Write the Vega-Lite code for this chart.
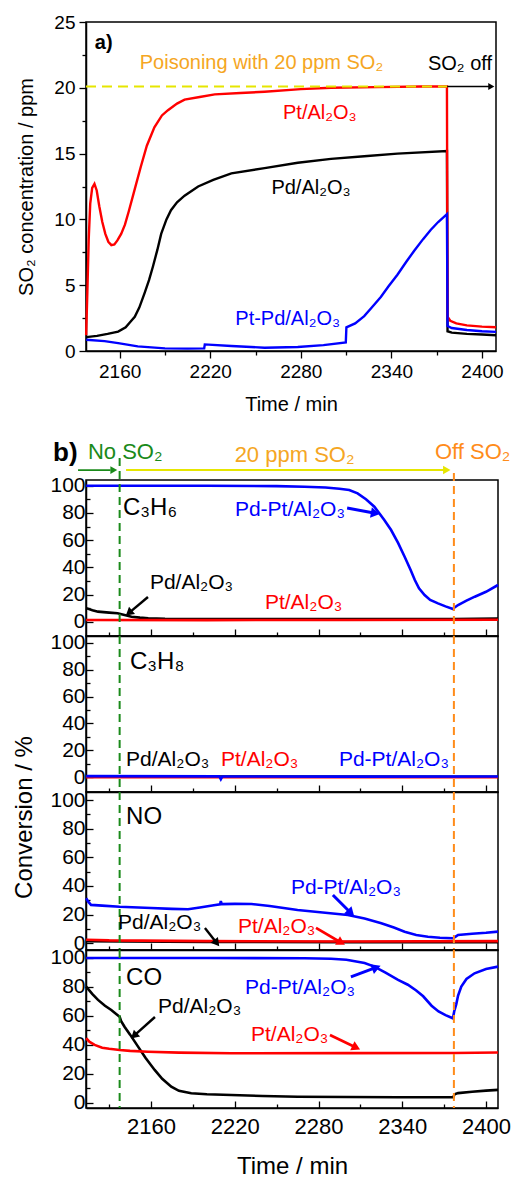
{
"$schema": "https://vega.github.io/schema/vega-lite/v6.json",
"padding": {"left": 12, "top": 12, "right": 0, "bottom": 0},
"bounds": "flush",
"spacing": 0,
"config": {
  "font": "Liberation Sans",
  "view": {"stroke": "#000", "strokeWidth": 1.5},
  "axis": {"grid": false, "domainColor": "#000", "domainWidth": 1.5, "tickColor": "#000", "tickWidth": 1.3, "labelColor": "#000", "titleColor": "#000", "titleFontWeight": "normal", "zindex": 1}
},
"datasets": {
"curves": [
{"p":"a","s":"Pd","t":2137.8,"v":1.05},{"p":"a","s":"Pd","t":2145,"v":1.15},{"p":"a","s":"Pd","t":2152,"v":1.3},{"p":"a","s":"Pd","t":2159,"v":1.47},{"p":"a","s":"Pd","t":2164,"v":1.8},{"p":"a","s":"Pd","t":2167,"v":2.2},{"p":"a","s":"Pd","t":2170,"v":2.6},{"p":"a","s":"Pd","t":2173,"v":3.3},{"p":"a","s":"Pd","t":2176.5,"v":4.4},{"p":"a","s":"Pd","t":2179.5,"v":5.4},{"p":"a","s":"Pd","t":2182,"v":6.4},{"p":"a","s":"Pd","t":2185,"v":7.7},{"p":"a","s":"Pd","t":2187.5,"v":8.9},{"p":"a","s":"Pd","t":2191,"v":10.0},{"p":"a","s":"Pd","t":2194,"v":10.7},{"p":"a","s":"Pd","t":2198,"v":11.3},{"p":"a","s":"Pd","t":2203,"v":11.8},{"p":"a","s":"Pd","t":2212,"v":12.5},{"p":"a","s":"Pd","t":2222,"v":13.0},{"p":"a","s":"Pd","t":2234,"v":13.5},{"p":"a","s":"Pd","t":2256,"v":13.9},{"p":"a","s":"Pd","t":2278,"v":14.3},{"p":"a","s":"Pd","t":2300,"v":14.6},{"p":"a","s":"Pd","t":2322,"v":14.8},{"p":"a","s":"Pd","t":2344,"v":15.0},{"p":"a","s":"Pd","t":2376.8,"v":15.2},{"p":"a","s":"Pd","t":2377.2,"v":1.5},{"p":"a","s":"Pd","t":2380,"v":1.4},{"p":"a","s":"Pd","t":2390,"v":1.3},{"p":"a","s":"Pd","t":2400,"v":1.25},{"p":"a","s":"Pd","t":2409.3,"v":1.2},
{"p":"a","s":"Pt","t":2137.8,"v":1.2},{"p":"a","s":"Pt","t":2138.6,"v":4.5},{"p":"a","s":"Pt","t":2139.5,"v":8.5},{"p":"a","s":"Pt","t":2140.5,"v":11.2},{"p":"a","s":"Pt","t":2141.8,"v":12.4},{"p":"a","s":"Pt","t":2143.3,"v":12.7},{"p":"a","s":"Pt","t":2144.8,"v":12.2},{"p":"a","s":"Pt","t":2146.5,"v":11.0},{"p":"a","s":"Pt","t":2148.5,"v":9.8},{"p":"a","s":"Pt","t":2150.5,"v":8.9},{"p":"a","s":"Pt","t":2152.5,"v":8.3},{"p":"a","s":"Pt","t":2154.5,"v":8.05},{"p":"a","s":"Pt","t":2156.5,"v":8.1},{"p":"a","s":"Pt","t":2158.5,"v":8.4},{"p":"a","s":"Pt","t":2161,"v":8.9},{"p":"a","s":"Pt","t":2163.5,"v":9.6},{"p":"a","s":"Pt","t":2166,"v":10.6},{"p":"a","s":"Pt","t":2170,"v":12.3},{"p":"a","s":"Pt","t":2174,"v":14.0},{"p":"a","s":"Pt","t":2178,"v":15.6},{"p":"a","s":"Pt","t":2183,"v":17.0},{"p":"a","s":"Pt","t":2188,"v":17.9},{"p":"a","s":"Pt","t":2192,"v":18.3},{"p":"a","s":"Pt","t":2198,"v":18.8},{"p":"a","s":"Pt","t":2203,"v":19.1},{"p":"a","s":"Pt","t":2213,"v":19.3},{"p":"a","s":"Pt","t":2223,"v":19.5},{"p":"a","s":"Pt","t":2240,"v":19.6},{"p":"a","s":"Pt","t":2256,"v":19.7},{"p":"a","s":"Pt","t":2280,"v":19.9},{"p":"a","s":"Pt","t":2300,"v":20.0},{"p":"a","s":"Pt","t":2330,"v":20.05},{"p":"a","s":"Pt","t":2360,"v":20.1},{"p":"a","s":"Pt","t":2376.8,"v":20.1},{"p":"a","s":"Pt","t":2377.2,"v":2.6},{"p":"a","s":"Pt","t":2379,"v":2.3},{"p":"a","s":"Pt","t":2383,"v":2.1},{"p":"a","s":"Pt","t":2390,"v":1.95},{"p":"a","s":"Pt","t":2400,"v":1.85},{"p":"a","s":"Pt","t":2409.3,"v":1.8},
{"p":"a","s":"PdPt","t":2137.8,"v":0.85},{"p":"a","s":"PdPt","t":2150,"v":0.75},{"p":"a","s":"PdPt","t":2159,"v":0.6},{"p":"a","s":"PdPt","t":2172,"v":0.35},{"p":"a","s":"PdPt","t":2190,"v":0.2},{"p":"a","s":"PdPt","t":2205,"v":0.18},{"p":"a","s":"PdPt","t":2216,"v":0.2},{"p":"a","s":"PdPt","t":2216.4,"v":0.5},{"p":"a","s":"PdPt","t":2234,"v":0.38},{"p":"a","s":"PdPt","t":2256,"v":0.25},{"p":"a","s":"PdPt","t":2278,"v":0.3},{"p":"a","s":"PdPt","t":2295,"v":0.45},{"p":"a","s":"PdPt","t":2309.8,"v":0.65},{"p":"a","s":"PdPt","t":2310.2,"v":1.8},{"p":"a","s":"PdPt","t":2316,"v":2.1},{"p":"a","s":"PdPt","t":2322,"v":2.65},{"p":"a","s":"PdPt","t":2327,"v":3.3},{"p":"a","s":"PdPt","t":2333,"v":4.1},{"p":"a","s":"PdPt","t":2338,"v":4.9},{"p":"a","s":"PdPt","t":2344,"v":5.8},{"p":"a","s":"PdPt","t":2350,"v":6.8},{"p":"a","s":"PdPt","t":2355,"v":7.6},{"p":"a","s":"PdPt","t":2361,"v":8.5},{"p":"a","s":"PdPt","t":2366,"v":9.2},{"p":"a","s":"PdPt","t":2371,"v":9.8},{"p":"a","s":"PdPt","t":2376.8,"v":10.4},{"p":"a","s":"PdPt","t":2377.2,"v":1.9},{"p":"a","s":"PdPt","t":2380,"v":1.75},{"p":"a","s":"PdPt","t":2390,"v":1.6},{"p":"a","s":"PdPt","t":2400,"v":1.5},{"p":"a","s":"PdPt","t":2409.3,"v":1.45},

{"p":"c3h6","s":"Pd","t":2113.5,"v":10},{"p":"c3h6","s":"Pd","t":2118,"v":8.5},{"p":"c3h6","s":"Pd","t":2122,"v":7.4},{"p":"c3h6","s":"Pd","t":2130,"v":6.7},{"p":"c3h6","s":"Pd","t":2136,"v":6.2},{"p":"c3h6","s":"Pd","t":2141,"v":5},{"p":"c3h6","s":"Pd","t":2146,"v":3.7},{"p":"c3h6","s":"Pd","t":2152,"v":3},{"p":"c3h6","s":"Pd","t":2158,"v":2.5},{"p":"c3h6","s":"Pd","t":2170,"v":2.1},{"p":"c3h6","s":"Pd","t":2200,"v":2},{"p":"c3h6","s":"Pd","t":2300,"v":2},{"p":"c3h6","s":"Pd","t":2377,"v":2},{"p":"c3h6","s":"Pd","t":2408.6,"v":2.3},
{"p":"c3h6","s":"Pt","t":2113.5,"v":1.3},{"p":"c3h6","s":"Pt","t":2200,"v":1.2},{"p":"c3h6","s":"Pt","t":2300,"v":1.3},{"p":"c3h6","s":"Pt","t":2408.6,"v":1.4},
{"p":"c3h6","s":"PdPt","t":2113.5,"v":100},{"p":"c3h6","s":"PdPt","t":2200,"v":100},{"p":"c3h6","s":"PdPt","t":2250,"v":99.7},{"p":"c3h6","s":"PdPt","t":2270,"v":99.2},{"p":"c3h6","s":"PdPt","t":2285,"v":98.7},{"p":"c3h6","s":"PdPt","t":2295,"v":97.8},{"p":"c3h6","s":"PdPt","t":2302,"v":96.8},{"p":"c3h6","s":"PdPt","t":2308,"v":94.4},{"p":"c3h6","s":"PdPt","t":2314,"v":90},{"p":"c3h6","s":"PdPt","t":2320,"v":84.6},{"p":"c3h6","s":"PdPt","t":2327,"v":75},{"p":"c3h6","s":"PdPt","t":2332,"v":67.4},{"p":"c3h6","s":"PdPt","t":2337,"v":58},{"p":"c3h6","s":"PdPt","t":2341.7,"v":47.8},{"p":"c3h6","s":"PdPt","t":2346,"v":38},{"p":"c3h6","s":"PdPt","t":2349,"v":30.7},{"p":"c3h6","s":"PdPt","t":2352,"v":24.5},{"p":"c3h6","s":"PdPt","t":2356,"v":19.6},{"p":"c3h6","s":"PdPt","t":2360,"v":16},{"p":"c3h6","s":"PdPt","t":2365.6,"v":13.5},{"p":"c3h6","s":"PdPt","t":2371,"v":11.3},{"p":"c3h6","s":"PdPt","t":2376.3,"v":9.3},{"p":"c3h6","s":"PdPt","t":2377.5,"v":10.5},{"p":"c3h6","s":"PdPt","t":2380,"v":12.3},{"p":"c3h6","s":"PdPt","t":2386,"v":15.5},{"p":"c3h6","s":"PdPt","t":2392,"v":18.4},{"p":"c3h6","s":"PdPt","t":2400,"v":22},{"p":"c3h6","s":"PdPt","t":2408.6,"v":27},

{"p":"c3h8","s":"Pd","t":2113.5,"v":0.5},{"p":"c3h8","s":"Pd","t":2408.6,"v":0.3},
{"p":"c3h8","s":"Pt","t":2113.5,"v":0},{"p":"c3h8","s":"Pt","t":2408.6,"v":0},
{"p":"c3h8","s":"PdPt","t":2113.5,"v":0.8},{"p":"c3h8","s":"PdPt","t":2209,"v":0.6},{"p":"c3h8","s":"PdPt","t":2210,"v":-1.5},{"p":"c3h8","s":"PdPt","t":2211,"v":0.5},{"p":"c3h8","s":"PdPt","t":2300,"v":0.4},{"p":"c3h8","s":"PdPt","t":2408.6,"v":0.5},

{"p":"no","s":"Pd","t":2113.5,"v":1.5},{"p":"no","s":"Pd","t":2200,"v":1},{"p":"no","s":"Pd","t":2300,"v":0.8},{"p":"no","s":"Pd","t":2408.6,"v":0.8},
{"p":"no","s":"Pt","t":2113.5,"v":2.5},{"p":"no","s":"Pt","t":2130,"v":2},{"p":"no","s":"Pt","t":2200,"v":1.5},{"p":"no","s":"Pt","t":2300,"v":1.2},{"p":"no","s":"Pt","t":2408.6,"v":1.5},
{"p":"no","s":"PdPt","t":2113.5,"v":31.4},{"p":"no","s":"PdPt","t":2115,"v":29},{"p":"no","s":"PdPt","t":2117,"v":26.8},{"p":"no","s":"PdPt","t":2125,"v":26.3},{"p":"no","s":"PdPt","t":2137.5,"v":25.5},{"p":"no","s":"PdPt","t":2160,"v":24.6},{"p":"no","s":"PdPt","t":2175,"v":24},{"p":"no","s":"PdPt","t":2186.5,"v":23.7},{"p":"no","s":"PdPt","t":2195,"v":25},{"p":"no","s":"PdPt","t":2205,"v":26.5},{"p":"no","s":"PdPt","t":2209.5,"v":27.2},{"p":"no","s":"PdPt","t":2210,"v":29.5},{"p":"no","s":"PdPt","t":2210.6,"v":27.3},{"p":"no","s":"PdPt","t":2220,"v":27.5},{"p":"no","s":"PdPt","t":2232,"v":27.4},{"p":"no","s":"PdPt","t":2245,"v":26},{"p":"no","s":"PdPt","t":2265,"v":23.2},{"p":"no","s":"PdPt","t":2283,"v":21.5},{"p":"no","s":"PdPt","t":2301,"v":19.7},{"p":"no","s":"PdPt","t":2313,"v":17.3},{"p":"no","s":"PdPt","t":2325,"v":14},{"p":"no","s":"PdPt","t":2334,"v":11},{"p":"no","s":"PdPt","t":2341.7,"v":8.1},{"p":"no","s":"PdPt","t":2350,"v":5.8},{"p":"no","s":"PdPt","t":2358.4,"v":4.6},{"p":"no","s":"PdPt","t":2367,"v":3.9},{"p":"no","s":"PdPt","t":2376.3,"v":3.5},{"p":"no","s":"PdPt","t":2378,"v":4.5},{"p":"no","s":"PdPt","t":2380,"v":5.8},{"p":"no","s":"PdPt","t":2390,"v":6.6},{"p":"no","s":"PdPt","t":2400,"v":7.3},{"p":"no","s":"PdPt","t":2408.6,"v":8.1},

{"p":"co","s":"Pd","t":2113.5,"v":80.2},{"p":"co","s":"Pd","t":2118,"v":75},{"p":"co","s":"Pd","t":2122,"v":71},{"p":"co","s":"Pd","t":2127,"v":67},{"p":"co","s":"Pd","t":2131.5,"v":64},{"p":"co","s":"Pd","t":2135,"v":61.3},{"p":"co","s":"Pd","t":2137.5,"v":59.4},{"p":"co","s":"Pd","t":2138.5,"v":56.5},{"p":"co","s":"Pd","t":2141,"v":52.5},{"p":"co","s":"Pd","t":2145,"v":47},{"p":"co","s":"Pd","t":2150.7,"v":38.7},{"p":"co","s":"Pd","t":2156,"v":31},{"p":"co","s":"Pd","t":2162.6,"v":22.6},{"p":"co","s":"Pd","t":2168,"v":16.5},{"p":"co","s":"Pd","t":2174.5,"v":11},{"p":"co","s":"Pd","t":2180,"v":8.2},{"p":"co","s":"Pd","t":2188.8,"v":6.5},{"p":"co","s":"Pd","t":2200,"v":5.8},{"p":"co","s":"Pd","t":2217.5,"v":5.3},{"p":"co","s":"Pd","t":2240,"v":4.6},{"p":"co","s":"Pd","t":2265,"v":4.1},{"p":"co","s":"Pd","t":2300,"v":3.9},{"p":"co","s":"Pd","t":2337,"v":3.7},{"p":"co","s":"Pd","t":2376.5,"v":3.7},{"p":"co","s":"Pd","t":2377.5,"v":5.8},{"p":"co","s":"Pd","t":2380,"v":6.6},{"p":"co","s":"Pd","t":2390,"v":7.5},{"p":"co","s":"Pd","t":2400,"v":8.3},{"p":"co","s":"Pd","t":2408.6,"v":8.8},
{"p":"co","s":"Pt","t":2113.5,"v":44.5},{"p":"co","s":"Pt","t":2116,"v":42},{"p":"co","s":"Pt","t":2119.6,"v":39.9},{"p":"co","s":"Pt","t":2125,"v":38},{"p":"co","s":"Pt","t":2130,"v":37.2},{"p":"co","s":"Pt","t":2137.5,"v":36.4},{"p":"co","s":"Pt","t":2145,"v":35.8},{"p":"co","s":"Pt","t":2157.8,"v":35.2},{"p":"co","s":"Pt","t":2180,"v":34.6},{"p":"co","s":"Pt","t":2217.5,"v":34.1},{"p":"co","s":"Pt","t":2300,"v":34.2},{"p":"co","s":"Pt","t":2377,"v":34.3},{"p":"co","s":"Pt","t":2408.6,"v":34.7},
{"p":"co","s":"PdPt","t":2113.5,"v":100},{"p":"co","s":"PdPt","t":2200,"v":100},{"p":"co","s":"PdPt","t":2270,"v":99.8},{"p":"co","s":"PdPt","t":2289,"v":99.5},{"p":"co","s":"PdPt","t":2300,"v":98.8},{"p":"co","s":"PdPt","t":2313,"v":96.5},{"p":"co","s":"PdPt","t":2320,"v":94},{"p":"co","s":"PdPt","t":2328,"v":89.8},{"p":"co","s":"PdPt","t":2337,"v":84.8},{"p":"co","s":"PdPt","t":2344,"v":81.5},{"p":"co","s":"PdPt","t":2350,"v":77.5},{"p":"co","s":"PdPt","t":2355,"v":73.5},{"p":"co","s":"PdPt","t":2361,"v":67},{"p":"co","s":"PdPt","t":2366,"v":63},{"p":"co","s":"PdPt","t":2371,"v":60.5},{"p":"co","s":"PdPt","t":2376.3,"v":58.3},{"p":"co","s":"PdPt","t":2377.2,"v":63},{"p":"co","s":"PdPt","t":2378.7,"v":68},{"p":"co","s":"PdPt","t":2380,"v":74},{"p":"co","s":"PdPt","t":2382.3,"v":80.2},{"p":"co","s":"PdPt","t":2386,"v":85.5},{"p":"co","s":"PdPt","t":2391.8,"v":89.4},{"p":"co","s":"PdPt","t":2400,"v":92.3},{"p":"co","s":"PdPt","t":2408.6,"v":94}
],
"segs": [
{"p":"a","s":"yl","d":"dash","t":2137.7,"v":20.1,"t2":2377,"v2":20.1},
{"p":"a","s":"k","d":"solid","t":2377,"v":20.1,"t2":2405,"v2":20.1},
{"p":"c3h6","s":"no","d":"dash","t":2137.5,"v":120.4,"t2":2137.5,"v2":-10.5},
{"p":"c3h6","s":"off","d":"dash","t":2377,"v":109.3,"t2":2377,"v2":-10.5},
{"p":"c3h6","s":"no","d":"solid","t":2107.7,"v":111.5,"t2":2131,"v2":111.5},
{"p":"c3h6","s":"yl","d":"solid","t":2142.1,"v":111.5,"t2":2370,"v2":111.5},
{"p":"c3h6","s":"PdPt","d":"solid","t":2300.5,"v":83.6,"t2":2319.7,"v2":79.9},
{"p":"c3h6","s":"Pd","d":"solid","t":2157.8,"v":18.2,"t2":2144.9,"v2":7.1},
{"p":"c3h8","s":"no","d":"dash","t":2137.5,"v":105,"t2":2137.5,"v2":-11},
{"p":"c3h8","s":"off","d":"dash","t":2377,"v":105,"t2":2377,"v2":-11},
{"p":"no","s":"no","d":"dash","t":2137.5,"v":105.6,"t2":2137.5,"v2":-4.7},
{"p":"no","s":"off","d":"dash","t":2377,"v":105.6,"t2":2377,"v2":-4.7},
{"p":"no","s":"PdPt","d":"solid","t":2290.3,"v":33.7,"t2":2302.5,"v2":21.8},
{"p":"no","s":"Pd","d":"solid","t":2198.6,"v":10.7,"t2":2206.5,"v2":0.9},
{"p":"no","s":"Pt","d":"solid","t":2278.2,"v":10.7,"t2":2295.4,"v2":0.9},
{"p":"co","s":"no","d":"dash","t":2137.5,"v":105.5,"t2":2137.5,"v2":-3.7},
{"p":"co","s":"off","d":"dash","t":2377,"v":105.5,"t2":2377,"v2":-3.7},
{"p":"co","s":"PdPt","d":"solid","t":2303.2,"v":86.9,"t2":2320.4,"v2":93.1},
{"p":"co","s":"Pd","d":"solid","t":2162.8,"v":59.2,"t2":2148.5,"v2":46.8},
{"p":"co","s":"Pt","d":"solid","t":2288.2,"v":46.8,"t2":2306.1,"v2":38.5}
],
"heads": [
{"p":"a","s":"k","t":2405.5,"v":20.1,"a":90},
{"p":"c3h6","s":"no","t":2132.5,"v":111.5,"a":90},
{"p":"c3h6","s":"yl","t":2371,"v":111.5,"a":90},
{"p":"c3h6","s":"PdPt","t":2319.7,"v":79.9,"a":100},
{"p":"c3h6","s":"Pd","t":2144.9,"v":7.1,"a":230},
{"p":"no","s":"PdPt","t":2302.5,"v":21.8,"a":135},
{"p":"no","s":"Pd","t":2206.5,"v":0.9,"a":142},
{"p":"no","s":"Pt","t":2295.4,"v":0.9,"a":120},
{"p":"co","s":"PdPt","t":2320.4,"v":93.1,"a":69},
{"p":"co","s":"Pd","t":2148.5,"v":46.8,"a":228},
{"p":"co","s":"Pt","t":2306.1,"v":38.5,"a":116}
],
"labels": [
{"p":"a","s":"k","k":"ab","t":2143.5,"v":23.4,"txt":"a)"},
{"p":"a","s":"so2","k":"lab","t":2173.3,"v":21.9,"txt":"Poisoning with 20 ppm SO₂"},
{"p":"a","s":"k","k":"lab","t":2364.2,"v":21.8,"txt":"SO₂ off"},
{"p":"a","s":"Pt","k":"lab","t":2268.2,"v":18.1,"txt":"Pt/Al₂O₃"},
{"p":"a","s":"Pd","k":"lab","t":2260.5,"v":12.4,"txt":"Pd/Al₂O₃"},
{"p":"a","s":"PdPt","k":"lab","t":2236.6,"v":2.4,"txt":"Pt-Pd/Al₂O₃"},
{"p":"c3h6","s":"k","k":"ab","t":2089.8,"v":123.8,"txt":"b)"},
{"p":"c3h6","s":"no","k":"top","t":2114.8,"v":125,"txt":"No SO₂"},
{"p":"c3h6","s":"so2","k":"top","t":2219.9,"v":122.6,"txt":"20 ppm SO₂"},
{"p":"c3h6","s":"off","k":"top","t":2363.4,"v":124.8,"txt":"Off SO₂"},
{"p":"c3h6","s":"k","k":"gas","t":2139.9,"v":83.6,"txt":"C₃H₆"},
{"p":"c3h6","s":"PdPt","k":"cat","t":2220.1,"v":82.1,"txt":"Pd-Pt/Al₂O₃"},
{"p":"c3h6","s":"Pd","k":"cat","t":2159.2,"v":28.5,"txt":"Pd/Al₂O₃"},
{"p":"c3h6","s":"Pt","k":"cat","t":2241.6,"v":13.8,"txt":"Pt/Al₂O₃"},
{"p":"c3h8","s":"k","k":"gas","t":2144.9,"v":85.7,"txt":"C₃H₈"},
{"p":"c3h8","s":"Pd","k":"cat","t":2142.1,"v":12.6,"txt":"Pd/Al₂O₃"},
{"p":"c3h8","s":"Pt","k":"cat","t":2210.1,"v":12.6,"txt":"Pt/Al₂O₃"},
{"p":"c3h8","s":"PdPt","k":"cat","t":2294.6,"v":12.6,"txt":"Pd-Pt/Al₂O₃"},
{"p":"no","s":"k","k":"gas","t":2142.1,"v":88.1,"txt":"NO"},
{"p":"no","s":"PdPt","k":"cat","t":2260.2,"v":38.6,"txt":"Pd-Pt/Al₂O₃"},
{"p":"no","s":"Pd","k":"cat","t":2136.3,"v":14.2,"txt":"Pd/Al₂O₃"},
{"p":"no","s":"Pt","k":"cat","t":2222.3,"v":11.4,"txt":"Pt/Al₂O₃"},
{"p":"co","s":"k","k":"gas","t":2142.1,"v":86.2,"txt":"CO"},
{"p":"co","s":"PdPt","k":"cat","t":2227.3,"v":79.3,"txt":"Pd-Pt/Al₂O₃"},
{"p":"co","s":"Pd","k":"cat","t":2165,"v":66.1,"txt":"Pd/Al₂O₃"},
{"p":"co","s":"Pt","k":"cat","t":2231.6,"v":46.8,"txt":"Pt/Al₂O₃"}
]
},
"vconcat": [
{
 "width": 410, "height": 329,
 "encoding": {
  "x": {"field": "t", "type": "quantitative", "scale": {"domain": [2137.7, 2409.3], "nice": false, "zero": false},
        "axis": {"title": "Time / min", "values": [2160,2190,2220,2250,2280,2310,2340,2370,2400], "format": "d", "labelExpr": "datum.value % 60 === 0 ? datum.label : ''", "tickSize": {"condition": {"test": "datum.value % 60 === 0", "value": 7}, "value": 4}, "labelFontSize": 19, "labelPadding": 4, "titleFontSize": 20, "titlePadding": 13}},
  "y": {"field": "v", "type": "quantitative", "scale": {"domain": [0, 25], "nice": false, "zero": false},
        "axis": {"title": "SO₂ concentration / ppm", "values": [0,2.5,5,7.5,10,12.5,15,17.5,20,22.5,25], "format": "d", "labelExpr": "datum.value % 5 === 0 ? datum.label : ''", "tickSize": {"condition": {"test": "datum.value % 5 === 0", "value": 7}, "value": 4}, "labelFontSize": 19, "labelPadding": 4, "titleFontSize": 20, "titlePadding": 17}}
 },
 "layer": [
  {"data": {"name": "curves"}, "transform": [{"filter": "datum.p === 'a'"}], "mark": {"type": "line", "strokeWidth": 2.4},
   "encoding": {"color": {"field": "s", "type": "nominal", "scale": {"domain": ["Pd","Pt","PdPt","k","no","so2","yl","off"], "range": ["#000000","#ff0000","#0000ff","#000000","#1a8a1a","#f5a623","#e6e600","#ff8c1a"]}, "legend": null}}},
  {"data": {"name": "segs"}, "transform": [{"filter": "datum.p === 'a' && datum.d === 'dash'"}], "mark": {"type": "rule", "strokeDash": [10, 6], "strokeWidth": 2},
   "encoding": {"x2": {"field": "t2"}, "y2": {"field": "v2"}, "color": {"field": "s", "type": "nominal", "legend": null}}},
  {"data": {"name": "segs"}, "transform": [{"filter": "datum.p === 'a' && datum.d === 'solid'"}], "mark": {"type": "rule"},
   "encoding": {"x2": {"field": "t2"}, "y2": {"field": "v2"}, "color": {"field": "s", "type": "nominal", "legend": null},
    "strokeWidth": {"field": "s", "type": "ordinal", "scale": {"domain": ["k","no","yl","Pd","Pt","PdPt"], "range": [1.5,3,2,1,1,1]}, "legend": null}}},
  {"data": {"name": "heads"}, "transform": [{"filter": "datum.p === 'a'"}], "mark": {"type": "point", "shape": "triangle", "filled": true, "opacity": 1},
   "encoding": {"color": {"field": "s", "type": "nominal", "legend": null}, "size": {"field": "s", "type": "ordinal", "scale": {"domain": ["k","no","yl","Pd","Pt","PdPt"], "range": [50,110,80,28,28,28]}, "legend": null}, "angle": {"field": "a", "type": "quantitative", "scale": null}}},
  {"data": {"name": "labels"}, "transform": [{"filter": "datum.p === 'a' && datum.k !== 'ab'"}], "mark": {"type": "text", "align": "left", "baseline": "middle", "fontSize": 20},
   "encoding": {"text": {"field": "txt"}, "color": {"field": "s", "type": "nominal", "legend": null}}},
  {"data": {"name": "labels"}, "transform": [{"filter": "datum.p === 'a' && datum.k === 'ab'"}], "mark": {"type": "text", "align": "left", "baseline": "middle", "fontSize": 20, "fontWeight": "bold"},
   "encoding": {"text": {"field": "txt"}, "color": {"field": "s", "type": "nominal", "legend": null}}}
 ]
},
{
 "width": 412, "height": 129, "view": {"stroke": null},
 "data": {"values": [{"e": ""}]},
 "mark": {"type": "text"},
 "encoding": {"text": {"field": "e"}}
},
{
 "width": 412, "height": 156,
 "encoding": {
  "x": {"field": "t", "type": "quantitative", "scale": {"domain": [2113.4, 2408.6], "nice": false, "zero": false},
        "axis": {"title": null, "labels": false, "values": [2130,2160,2190,2220,2250,2280,2310,2340,2370,2400], "tickSize": {"condition": {"test": "datum.value % 60 === 0", "value": -7}, "value": -4}}},
  "y": {"field": "v", "type": "quantitative", "scale": {"domain": [-10.5, 104.2], "nice": false, "zero": false},
        "axis": {"title": null, "values": [0,10,20,30,40,50,60,70,80,90,100], "format": "d", "labelExpr": "datum.value % 20 === 0 ? datum.label : ''", "tickSize": {"condition": {"test": "datum.value % 20 === 0", "value": -7}, "value": -4}, "labelFontSize": 21, "labelPadding": 8}}
 },
 "layer": [
  {"data": {"name": "curves"}, "transform": [{"filter": "datum.p === 'c3h6'"}], "mark": {"type": "line", "strokeWidth": 2.6},
   "encoding": {"color": {"field": "s", "type": "nominal", "legend": null}}},
  {"data": {"name": "segs"}, "transform": [{"filter": "datum.p === 'c3h6' && datum.d === 'dash'"}], "mark": {"type": "rule", "strokeDash": [8, 5], "strokeWidth": 2},
   "encoding": {"x2": {"field": "t2"}, "y2": {"field": "v2"}, "color": {"field": "s", "type": "nominal", "legend": null}}},
  {"data": {"name": "segs"}, "transform": [{"filter": "datum.p === 'c3h6' && datum.d === 'solid'"}], "mark": {"type": "rule"},
   "encoding": {"x2": {"field": "t2"}, "y2": {"field": "v2"}, "color": {"field": "s", "type": "nominal", "legend": null},
    "strokeWidth": {"field": "s", "type": "ordinal", "legend": null}}},
  {"data": {"name": "heads"}, "transform": [{"filter": "datum.p === 'c3h6'"}], "mark": {"type": "point", "shape": "triangle", "filled": true, "opacity": 1},
   "encoding": {"color": {"field": "s", "type": "nominal", "legend": null}, "size": {"field": "s", "type": "ordinal", "legend": null}, "angle": {"field": "a", "type": "quantitative", "scale": null}}},
  {"data": {"name": "labels"}, "transform": [{"filter": "datum.p === 'c3h6' && datum.k === 'top'"}], "mark": {"type": "text", "align": "left", "baseline": "middle", "fontSize": 22},
   "encoding": {"text": {"field": "txt"}, "color": {"field": "s", "type": "nominal", "legend": null}}},
  {"data": {"name": "labels"}, "transform": [{"filter": "datum.p === 'c3h6' && datum.k === 'cat'"}], "mark": {"type": "text", "align": "left", "baseline": "middle", "fontSize": 21},
   "encoding": {"text": {"field": "txt"}, "color": {"field": "s", "type": "nominal", "legend": null}}},
  {"data": {"name": "labels"}, "transform": [{"filter": "datum.p === 'c3h6' && datum.k === 'gas'"}], "mark": {"type": "text", "align": "left", "baseline": "middle", "fontSize": 24},
   "encoding": {"text": {"field": "txt"}, "color": {"field": "s", "type": "nominal", "legend": null}}},
  {"data": {"name": "labels"}, "transform": [{"filter": "datum.p === 'c3h6' && datum.k === 'ab'"}], "mark": {"type": "text", "align": "left", "baseline": "middle", "fontSize": 26, "fontWeight": "bold"},
   "encoding": {"text": {"field": "txt"}, "color": {"field": "s", "type": "nominal", "legend": null}}}
 ]
},
{
 "width": 412, "height": 156,
 "encoding": {
  "x": {"field": "t", "type": "quantitative", "scale": {"domain": [2113.4, 2408.6], "nice": false, "zero": false},
        "axis": {"title": null, "labels": false, "values": [2130,2160,2190,2220,2250,2280,2310,2340,2370,2400], "tickSize": {"condition": {"test": "datum.value % 60 === 0", "value": -7}, "value": -4}}},
  "y": {"field": "v", "type": "quantitative", "scale": {"domain": [-11, 105], "nice": false, "zero": false},
        "axis": {"title": null, "values": [0,10,20,30,40,50,60,70,80,90,100], "format": "d", "labelExpr": "datum.value % 20 === 0 ? datum.label : ''", "tickSize": {"condition": {"test": "datum.value % 20 === 0", "value": -7}, "value": -4}, "labelFontSize": 21, "labelPadding": 8}}
 },
 "layer": [
  {"data": {"name": "curves"}, "transform": [{"filter": "datum.p === 'c3h8'"}], "mark": {"type": "line", "strokeWidth": 2.6},
   "encoding": {"color": {"field": "s", "type": "nominal", "legend": null}}},
  {"data": {"name": "segs"}, "transform": [{"filter": "datum.p === 'c3h8' && datum.d === 'dash'"}], "mark": {"type": "rule", "strokeDash": [8, 5], "strokeWidth": 2},
   "encoding": {"x2": {"field": "t2"}, "y2": {"field": "v2"}, "color": {"field": "s", "type": "nominal", "legend": null}}},
  {"data": {"name": "labels"}, "transform": [{"filter": "datum.p === 'c3h8' && datum.k === 'cat'"}], "mark": {"type": "text", "align": "left", "baseline": "middle", "fontSize": 21},
   "encoding": {"text": {"field": "txt"}, "color": {"field": "s", "type": "nominal", "legend": null}}},
  {"data": {"name": "labels"}, "transform": [{"filter": "datum.p === 'c3h8' && datum.k === 'gas'"}], "mark": {"type": "text", "align": "left", "baseline": "middle", "fontSize": 24},
   "encoding": {"text": {"field": "txt"}, "color": {"field": "s", "type": "nominal", "legend": null}}}
 ]
},
{
 "width": 412, "height": 158,
 "encoding": {
  "x": {"field": "t", "type": "quantitative", "scale": {"domain": [2113.4, 2408.6], "nice": false, "zero": false},
        "axis": {"title": null, "labels": false, "values": [2130,2160,2190,2220,2250,2280,2310,2340,2370,2400], "tickSize": {"condition": {"test": "datum.value % 60 === 0", "value": -7}, "value": -4}}},
  "y": {"field": "v", "type": "quantitative", "scale": {"domain": [-4.7, 105.6], "nice": false, "zero": false},
        "axis": {"title": "Conversion / %", "titleFontSize": 24, "titleY": 25, "titlePadding": 13, "values": [0,10,20,30,40,50,60,70,80,90,100], "format": "d", "labelExpr": "datum.value % 20 === 0 ? datum.label : ''", "tickSize": {"condition": {"test": "datum.value % 20 === 0", "value": -7}, "value": -4}, "labelFontSize": 21, "labelPadding": 8}}
 },
 "layer": [
  {"data": {"name": "curves"}, "transform": [{"filter": "datum.p === 'no'"}], "mark": {"type": "line", "strokeWidth": 2.6},
   "encoding": {"color": {"field": "s", "type": "nominal", "legend": null}}},
  {"data": {"name": "segs"}, "transform": [{"filter": "datum.p === 'no' && datum.d === 'dash'"}], "mark": {"type": "rule", "strokeDash": [8, 5], "strokeWidth": 2},
   "encoding": {"x2": {"field": "t2"}, "y2": {"field": "v2"}, "color": {"field": "s", "type": "nominal", "legend": null}}},
  {"data": {"name": "segs"}, "transform": [{"filter": "datum.p === 'no' && datum.d === 'solid'"}], "mark": {"type": "rule"},
   "encoding": {"x2": {"field": "t2"}, "y2": {"field": "v2"}, "color": {"field": "s", "type": "nominal", "legend": null},
    "strokeWidth": {"field": "s", "type": "ordinal", "legend": null}}},
  {"data": {"name": "heads"}, "transform": [{"filter": "datum.p === 'no'"}], "mark": {"type": "point", "shape": "triangle", "filled": true, "opacity": 1},
   "encoding": {"color": {"field": "s", "type": "nominal", "legend": null}, "size": {"field": "s", "type": "ordinal", "legend": null}, "angle": {"field": "a", "type": "quantitative", "scale": null}}},
  {"data": {"name": "labels"}, "transform": [{"filter": "datum.p === 'no' && datum.k === 'cat'"}], "mark": {"type": "text", "align": "left", "baseline": "middle", "fontSize": 21},
   "encoding": {"text": {"field": "txt"}, "color": {"field": "s", "type": "nominal", "legend": null}}},
  {"data": {"name": "labels"}, "transform": [{"filter": "datum.p === 'no' && datum.k === 'gas'"}], "mark": {"type": "text", "align": "left", "baseline": "middle", "fontSize": 24},
   "encoding": {"text": {"field": "txt"}, "color": {"field": "s", "type": "nominal", "legend": null}}}
 ]
},
{
 "width": 412, "height": 158,
 "encoding": {
  "x": {"field": "t", "type": "quantitative", "scale": {"domain": [2113.4, 2408.6], "nice": false, "zero": false},
        "axis": {"title": "Time / min", "titleFontSize": 24, "titlePadding": 17, "values": [2130,2160,2190,2220,2250,2280,2310,2340,2370,2400], "format": "d", "labelExpr": "datum.value % 60 === 0 ? datum.label : ''", "labelFontSize": 22, "labelPadding": 15, "tickSize": {"condition": {"test": "datum.value % 60 === 0", "value": -7}, "value": -4}}},
  "y": {"field": "v", "type": "quantitative", "scale": {"domain": [-3.7, 105.5], "nice": false, "zero": false},
        "axis": {"title": null, "values": [0,10,20,30,40,50,60,70,80,90,100], "format": "d", "labelExpr": "datum.value % 20 === 0 ? datum.label : ''", "tickSize": {"condition": {"test": "datum.value % 20 === 0", "value": -7}, "value": -4}, "labelFontSize": 21, "labelPadding": 8}}
 },
 "layer": [
  {"data": {"name": "curves"}, "transform": [{"filter": "datum.p === 'co'"}], "mark": {"type": "line", "strokeWidth": 2.6},
   "encoding": {"color": {"field": "s", "type": "nominal", "legend": null}}},
  {"data": {"name": "segs"}, "transform": [{"filter": "datum.p === 'co' && datum.d === 'dash'"}], "mark": {"type": "rule", "strokeDash": [8, 5], "strokeWidth": 2},
   "encoding": {"x2": {"field": "t2"}, "y2": {"field": "v2"}, "color": {"field": "s", "type": "nominal", "legend": null}}},
  {"data": {"name": "segs"}, "transform": [{"filter": "datum.p === 'co' && datum.d === 'solid'"}], "mark": {"type": "rule"},
   "encoding": {"x2": {"field": "t2"}, "y2": {"field": "v2"}, "color": {"field": "s", "type": "nominal", "legend": null},
    "strokeWidth": {"field": "s", "type": "ordinal", "legend": null}}},
  {"data": {"name": "heads"}, "transform": [{"filter": "datum.p === 'co'"}], "mark": {"type": "point", "shape": "triangle", "filled": true, "opacity": 1},
   "encoding": {"color": {"field": "s", "type": "nominal", "legend": null}, "size": {"field": "s", "type": "ordinal", "legend": null}, "angle": {"field": "a", "type": "quantitative", "scale": null}}},
  {"data": {"name": "labels"}, "transform": [{"filter": "datum.p === 'co' && datum.k === 'cat'"}], "mark": {"type": "text", "align": "left", "baseline": "middle", "fontSize": 21},
   "encoding": {"text": {"field": "txt"}, "color": {"field": "s", "type": "nominal", "legend": null}}},
  {"data": {"name": "labels"}, "transform": [{"filter": "datum.p === 'co' && datum.k === 'gas'"}], "mark": {"type": "text", "align": "left", "baseline": "middle", "fontSize": 24},
   "encoding": {"text": {"field": "txt"}, "color": {"field": "s", "type": "nominal", "legend": null}}}
 ]
}
]
}
